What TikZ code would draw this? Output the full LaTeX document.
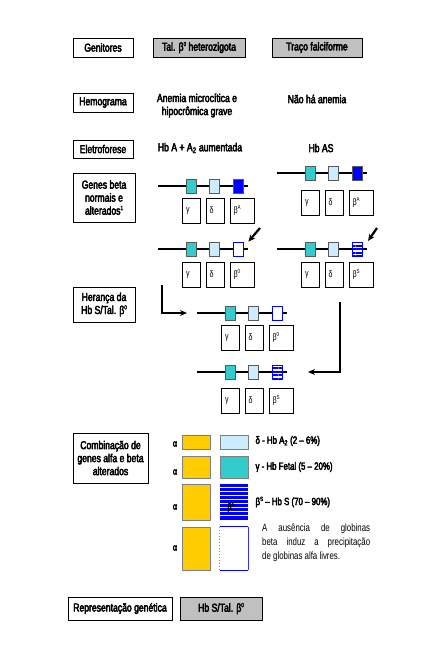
\documentclass[tikz,border=0pt]{standalone}
\usepackage{fontspec}
\setmainfont{Liberation Sans}[FakeStretch=0.75]
\newfontfamily\heavyfont{Liberation Sans}[FakeStretch=0.75,FakeBold=3.5]
\usetikzlibrary{arrows.meta,patterns.meta}
\definecolor{tealgene}{RGB}{51,204,204}
\definecolor{paleblue}{RGB}{204,236,255}
\definecolor{goldgene}{RGB}{255,204,0}
\definecolor{boxgray}{RGB}{192,192,192}
\newcommand\tinysup[1]{\raisebox{0.75ex}{\fontsize{6}{6}\selectfont #1}}

\begin{document}
\begin{tikzpicture}[x=1pt, y=-1pt,
    every node/.style={font=\heavyfont\fontsize{11.5}{13}\selectfont},
    rowbox/.style={draw, line width=0.8pt, inner sep=0pt, align=center},
    graybox/.style={rowbox, fill=boxgray},
    strand/.style={line width=1.6pt},
    gene/.style={draw=gray!70!black, line width=0.6pt, minimum width=10,
                 minimum height=14, inner sep=0pt},
    betaA/.style={gene, fill=blue},
    betazero/.style={gene, draw=blue, fill=white},
    betaS/.style={gene, draw=blue, fill=white,
                  pattern={Lines[angle=0,distance=3.5pt,line width=2pt]},
                  pattern color=blue},
    genelab/.style={draw, line width=0.6pt, minimum height=25, inner xsep=3.5pt,
                    inner ysep=0pt, align=left, font=\fontsize{9.5}{10}\selectfont},
    chain/.style={draw=gray, line width=0.8pt, inner sep=0pt, minimum width=28},
    note/.style={font=\heavyfont\fontsize{10.5}{12}\selectfont, anchor=west},
    flow/.style={-{Stealth[length=7pt,width=6pt]}, line width=1.5pt},
    pointer/.style={-{Stealth[length=7pt,width=6pt]}, line width=2.2pt},
]
    \useasboundingbox (0,0) rectangle (426,659);

    % left column
    \node[rowbox, minimum width=60, minimum height=19] (genitores) at (103,47.5) {Genitores};
    \node[rowbox, minimum width=60, minimum height=19] (hemograma) at (103,102.5) {Hemograma};
    \node[rowbox, minimum width=60, minimum height=18] (eletro) at (103,149) {Eletroforese};
    \node[rowbox, minimum width=62, minimum height=49] (genes) at (104,197.5) {Genes beta\\normais e\\alterados\tinysup{1}};
    \node[rowbox, minimum width=62, minimum height=35] (heranca) at (104,304.5) {Herança da\\Hb S/Tal. β\tinysup{0}};
    \node[rowbox, minimum width=75, minimum height=50] (combinacao) at (110.5,458) {Combinação de\\genes alfa e beta\\alterados};
    \node[rowbox, minimum width=104, minimum height=23] (repr) at (120,608.5) {Representação genética};
    \node[graybox, minimum width=82, minimum height=23] (hbstal) at (221,608.5) {Hb S/Tal. β\tinysup{0}};

    % parents
    \node[graybox, minimum width=92, minimum height=19] (talpai) at (199,47.5) {Tal. β\tinysup{0} heterozigota};
    \node[graybox, minimum width=90, minimum height=19] (tracopai) at (317,47.5) {Traço falciforme};
    \node[align=center] (anemia) at (197,105.5) {Anemia microcítica e\\hipocrômica grave};
    \node (semanemia) at (317,99) {Não há anemia};
    \node (hbaa) at (200,148) {Hb A + A\textsubscript{2} aumentada};
    \node (hbas) at (321,148) {Hb AS};

    % gene rows
    \foreach \rw/\px/\py/\bst/\bsup/\off in {a/158/186/betaA/A/12, b/277/173/betaA/A/17,
        c/158/249/betazero/0/13, d/277/249/betaS/S/13, e/197/313/betazero/0/12, f/197/372/betaS/S/16}{
      \begin{scope}[shift={(\px,\py)}]
        \draw[strand] (0,0) coordinate (\rw-start) -- (90,0) coordinate (\rw-end);
        \node[gene, fill=tealgene] (\rw-g) at (33,0) {};
        \node[gene, fill=paleblue] (\rw-d) at (56,0) {};
        \node[\bst] (\rw-b) at (80,0) {};
        \node[genelab, text width=11pt] (\rw-gl) at (33.5,\off+12.5) {γ};
        \node[genelab, text width=11pt] (\rw-dl) at (57,\off+12.5) {δ};
        \node[genelab, text width=17pt] (\rw-bl) at (84,\off+12.5) {β\tinysup{\bsup}};
      \end{scope}
    }

    \coordinate (tipC) at (260,228);
    \draw[pointer] (tipC) -- ([xshift=5pt]c-b.north east);
    \coordinate (tipD) at (377,228);
    \draw[pointer] (tipD) -- ([xshift=5pt]d-b.north east);
    \coordinate (dropA) at (162,285);
    \draw[flow, shorten >=10pt] (dropA) |- (e-start);
    \coordinate (dropB) at (340,302);
    \draw[flow, shorten >=21pt] (dropB) |- (f-end);

    % alpha and beta chains
    \foreach \k/\ay/\cy/\h in {1/444/442/14, 2/472/467/22, 3/507/502/36, 4/548/548.5/43}{
      \node[font=\heavyfont\fontsize{9.5}{10}\selectfont] (alfa\k) at (175,\ay) {α};
      \node[chain, fill=goldgene, minimum height=\h] (y\k) at (196,\cy) {};
    }
    \node[chain, fill=paleblue, minimum height=14] (c1) at (234,442) {};
    \node[chain, fill=tealgene, minimum height=22] (c2) at (234,467) {};
    \node[chain, draw=none, minimum height=36] (c3) at (234,502) {};
    \foreach \k in {0,...,8}
      \fill[blue] (220,484+4*\k) rectangle (248,486.6+4*\k);
    \fill[blue] (220,518.6) rectangle (248,520);
    \node[font=\heavyfont\fontsize{9.5}{10}\selectfont] (c3t) at (231,507) {β\tinysup{S}};
    \node[chain, draw=none, minimum height=43] (c4) at (234,548.5) {};
    \draw[blue, line width=1.6pt] (c4.north west) -- (c4.north east);
    \draw[blue, line width=1.6pt] (c4.south west) -- (c4.south east);
    \draw[blue!80, line width=0.8pt] (c4.north east) -- (c4.south east);
    \draw[blue!50, dotted, line width=1pt] (c4.north west) -- (c4.south west);

    \node[note] (n1) at (252,441) {δ - Hb A\textsubscript{2} (2 – 6\%)};
    \node[note] (n2) at (252,467) {γ - Hb Fetal (5 – 20\%)};
    \node[note] (n3) at (252,502) {β\tinysup{S} – Hb S (70 – 90\%)};
    \node[font=\fontsize{10.5}{14}\selectfont, anchor=north west, text width=108pt,
          align=justify, inner sep=0pt] (n4) at (262,524)
          {A ausência de globinas\linebreak beta induz a precipitação\linebreak de globinas alfa livres.};
\end{tikzpicture}
\end{document}
